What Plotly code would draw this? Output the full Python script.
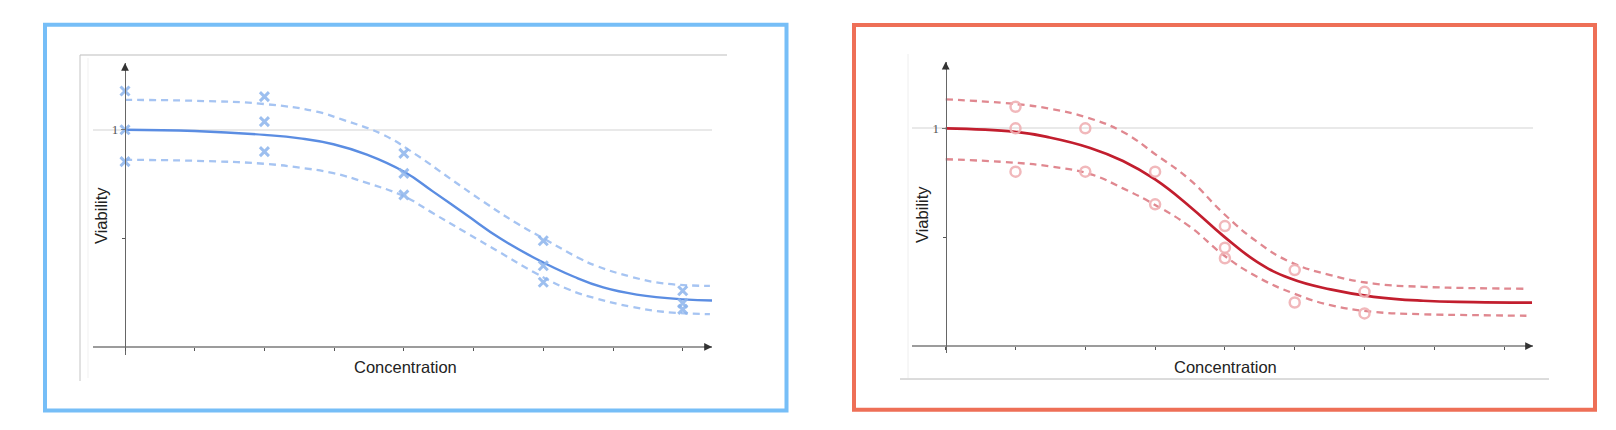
import plotly.graph_objects as go

# ---------------- data ----------------
conc_ticks = [0, 1, 2, 3, 4, 5, 6, 7, 8]

# Blue panel (crosses)
blue_pt_conc = [0, 0, 0, 2, 2, 2, 4, 4, 4, 6, 6, 6, 8, 8, 8]
blue_pt_viab = [1.178, 1.0, 0.853, 1.152, 1.037, 0.899, 0.891, 0.799, 0.70,
                0.489, 0.374, 0.298, 0.259, 0.201, 0.173]
blue_fit_conc = [0, 1, 2, 2.51, 2.99, 3.47, 4.01, 4.42, 4.90, 5.38, 5.86, 6.45, 6.86, 7.34, 8.01, 8.42]
blue_fit_viab = [1.0, 0.994, 0.976, 0.960, 0.933, 0.885, 0.805, 0.715, 0.607, 0.500, 0.412, 0.322,
                 0.274, 0.241, 0.219, 0.214]
blue_hi_conc = [0, 1, 2, 2.75, 3.13, 3.71, 4.18, 4.66, 5.14, 5.62, 6.0, 6.53, 6.77, 7.25, 7.72, 8.39]
blue_hi_viab = [1.137, 1.133, 1.118, 1.083, 1.045, 0.976, 0.884, 0.776, 0.669, 0.569, 0.500,
                0.406, 0.372, 0.324, 0.293, 0.281]
blue_lo_conc = [0, 1, 2, 2.51, 2.99, 3.47, 4.01, 4.42, 4.90, 5.38, 5.86, 6.34, 6.77, 7.25, 7.72, 8.39]
blue_lo_viab = [0.861, 0.857, 0.843, 0.825, 0.80, 0.755, 0.692, 0.615, 0.525, 0.435, 0.345,
                0.268, 0.222, 0.186, 0.162, 0.151]

# Red panel (circles)
red_pt_conc = [1, 1, 1, 2, 2, 3, 3, 4, 4, 4, 5, 5, 6, 6]
red_pt_viab = [1.099, 1.0, 0.801, 1.0, 0.801, 0.801, 0.651, 0.551, 0.452, 0.403,
               0.349, 0.20, 0.249, 0.150]
red_fit_conc = [0, 0.99, 1.49, 2.07, 2.54, 3.0, 3.50, 3.98, 4.46, 4.93, 5.51, 6.13, 6.84, 7.56, 8.40]
red_fit_viab = [1.0, 0.984, 0.958, 0.910, 0.850, 0.765, 0.640, 0.505, 0.387, 0.311, 0.260,
                0.226, 0.208, 0.202, 0.199]
red_hi_conc = [0, 0.99, 1.49, 2.0, 2.54, 3.02, 3.5, 3.98, 4.46, 4.93, 5.51, 6.13, 6.84, 7.56, 8.32]
red_hi_viab = [1.133, 1.112, 1.090, 1.052, 0.983, 0.877, 0.763, 0.609, 0.479, 0.387, 0.326,
               0.287, 0.272, 0.266, 0.263]
red_lo_conc = [0, 0.99, 1.49, 2.07, 2.54, 3.0, 3.5, 3.98, 4.46, 4.98, 5.51, 6.13, 6.84, 7.56, 8.32]
red_lo_viab = [0.858, 0.842, 0.825, 0.79, 0.724, 0.648, 0.548, 0.418, 0.318, 0.242, 0.188,
               0.157, 0.146, 0.142, 0.139]

y_tick_major = [1]
y_tick_major_text = ["1"]
y_tick_minor = [0.5]

x_title = "Concentration"
y_title = "Viability"

# ---------------- layout helpers ----------------
W, H = 1616, 430
def px(x):
    return x / W
def py(y):
    return 1 - y / H

BLUE_BORDER = "#76BEF7"
RED_BORDER = "#EE6F57"
BLUE_LINE = "#5B8DE2"
BLUE_DASH = "#A6C4F2"
BLUE_MARK = "rgba(140,180,236,0.85)"
RED_LINE = "#C21E2E"
RED_DASH = "#E08890"
RED_MARK = "rgba(240,176,180,0.9)"

fig = go.Figure()

def curve(x, y, color, width, dash, xa, ya):
    return go.Scatter(x=x, y=y, mode="lines",
                      line=dict(color=color, width=width, dash=dash, shape="spline", smoothing=1.3),
                      xaxis=xa, yaxis=ya, showlegend=False, hoverinfo="skip")

# Blue panel
fig.add_trace(curve(blue_hi_conc, blue_hi_viab, BLUE_DASH, 2.3, "7px,5px", "x", "y"))
fig.add_trace(curve(blue_lo_conc, blue_lo_viab, BLUE_DASH, 2.3, "7px,5px", "x", "y"))
fig.add_trace(curve(blue_fit_conc, blue_fit_viab, BLUE_LINE, 2.4, "solid", "x", "y"))
fig.add_trace(go.Scatter(x=blue_pt_conc, y=blue_pt_viab, mode="markers",
                         marker=dict(symbol="x-thin", size=9, color=BLUE_MARK,
                                     line=dict(color=BLUE_MARK, width=3)),
                         xaxis="x", yaxis="y", showlegend=False))

# Red panel
fig.add_trace(curve(red_hi_conc, red_hi_viab, RED_DASH, 2.3, "7px,5px", "x2", "y2"))
fig.add_trace(curve(red_lo_conc, red_lo_viab, RED_DASH, 2.3, "7px,5px", "x2", "y2"))
fig.add_trace(curve(red_fit_conc, red_fit_viab, RED_LINE, 2.7, "solid", "x2", "y2"))
fig.add_trace(go.Scatter(x=red_pt_conc, y=red_pt_viab, mode="markers",
                         marker=dict(symbol="circle-open", size=10, color=RED_MARK,
                                     line=dict(color=RED_MARK, width=2.5)),
                         xaxis="x2", yaxis="y2", showlegend=False))

def xaxis_cfg(domain, rng, pos):
    return dict(domain=domain, range=rng, anchor="free", position=pos,
                showgrid=False, zeroline=False, showline=True, linecolor="#9c9c9c", linewidth=2.2,
                tickvals=conc_ticks, showticklabels=False, ticks="outside", ticklen=3,
                tickwidth=1, tickcolor="#555", fixedrange=True)

def yaxis_cfg(domain, rng, pos):
    return dict(domain=domain, range=rng, anchor="free", position=pos,
                showgrid=True, gridcolor="#e9e9e9", gridwidth=1.5, zeroline=False,
                showline=True, linecolor="#666", linewidth=1.2,
                tickvals=y_tick_major, ticktext=y_tick_major_text, ticks="outside", ticklen=4,
                tickcolor="#777", tickfont=dict(family="Liberation Serif", size=13, color="#555"),
                minor=dict(tickvals=y_tick_minor, ticks="outside", ticklen=3, tickcolor="#555",
                           showgrid=False),
                fixedrange=True)

fig.update_layout(
    width=W, height=H, margin=dict(l=0, r=0, t=0, b=0),
    paper_bgcolor="white", plot_bgcolor="rgba(0,0,0,0)",
    xaxis=xaxis_cfg([px(93), px(712)], [-0.459, 8.42], py(347)),
    yaxis=yaxis_cfg([py(355), py(63)], [-0.037, 1.307], px(125)),
    xaxis2=xaxis_cfg([px(912), px(1533)], [-0.483, 8.414], py(346)),
    yaxis2=yaxis_cfg([py(353), py(61.7)], [-0.032, 1.306], px(945.7)),
    showlegend=False,
)

shapes = []
# outer coloured borders
shapes.append(dict(type="rect", xref="paper", yref="paper",
                   x0=px(45), x1=px(786.5), y0=py(410.5), y1=py(24.7),
                   line=dict(color=BLUE_BORDER, width=4)))
shapes.append(dict(type="rect", xref="paper", yref="paper",
                   x0=px(854), x1=px(1595), y0=py(409.7), y1=py(25),
                   line=dict(color=RED_BORDER, width=4)))
# thin grey frame pieces inside panels
shapes.append(dict(type="line", xref="paper", yref="paper", x0=px(80), x1=px(727), y0=py(55), y1=py(55),
                   line=dict(color="#bdbdbd", width=1)))
shapes.append(dict(type="line", xref="paper", yref="paper", x0=px(80), x1=px(80), y0=py(55), y1=py(381),
                   line=dict(color="#c4c4c4", width=1)))
shapes.append(dict(type="line", xref="paper", yref="paper", x0=px(88), x1=px(88), y0=py(58), y1=py(378),
                   line=dict(color="#f1f1f1", width=1)))
shapes.append(dict(type="line", xref="paper", yref="paper", x0=px(908), x1=px(908), y0=py(54), y1=py(378),
                   line=dict(color="#eeeeee", width=1)))
shapes.append(dict(type="line", xref="paper", yref="paper", x0=px(900), x1=px(1549), y0=py(379), y1=py(379),
                   line=dict(color="#b8b8b8", width=1)))
fig.update_layout(shapes=shapes)

ann = []
title_font = dict(family="Liberation Sans", size=16.5, color="#222")
# axis titles
ann.append(dict(text=x_title, xref="paper", yref="paper", x=px(405), y=py(367),
                showarrow=False, font=title_font, xanchor="center", yanchor="middle"))
ann.append(dict(text=y_title, xref="paper", yref="paper", x=px(101), y=py(216), textangle=-90,
                showarrow=False, font=title_font, xanchor="center", yanchor="middle"))
ann.append(dict(text=x_title, xref="paper", yref="paper", x=px(1225.5), y=py(366.5),
                showarrow=False, font=title_font, xanchor="center", yanchor="middle"))
ann.append(dict(text=y_title, xref="paper", yref="paper", x=px(922), y=py(214), textangle=-90,
                showarrow=False, font=title_font, xanchor="center", yanchor="middle"))
# arrowheads on axes
for xr, yr, xtop, ytop, xend in [("x", "y", 0, 1.307, 8.42), ("x2", "y2", 0, 1.306, 8.414)]:
    ann.append(dict(text="", xref=xr, yref=yr, x=xtop, y=ytop, ax=0, ay=9, showarrow=True,
                    arrowhead=2, arrowsize=1.3, arrowwidth=1.2, arrowcolor="#333"))
    ann.append(dict(text="", xref=xr, yref=yr, x=xend, y=0, ax=-9, ay=0, showarrow=True,
                    arrowhead=2, arrowsize=1.3, arrowwidth=1.2, arrowcolor="#333"))
fig.update_layout(annotations=ann)

fig.write_html("out.html", config={"displayModeBar": False},
               post_script="document.body.style.margin='0px';")
